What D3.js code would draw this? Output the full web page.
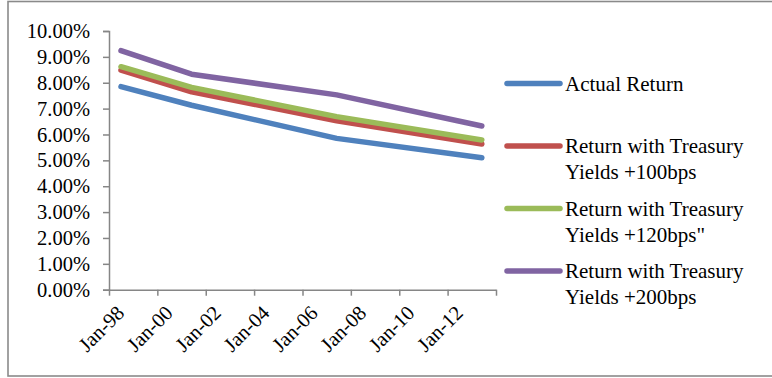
<!DOCTYPE html>
<html>
<head>
<meta charset="utf-8">
<script src="https://cdn.jsdelivr.net/npm/d3@7"></script>
<style>
  html, body { margin: 0; padding: 0; background: #fff; }
  svg { display: block; }
  text { font-family: "Liberation Serif", "Times New Roman", serif; fill: #000; }
</style>
</head>
<body>
<svg id="chart" width="772" height="378"></svg>
<script>
// ---- data ----
const dates = ["1998-07-01", "2001-06-01", "2007-06-01", "2013-06-01"];
const seriesNames = [
  "Actual Return",
  "Return with Treasury Yields +100bps",
  "Return with Treasury Yields +120bps\"",
  "Return with Treasury Yields +200bps"
];
const actualReturn = [7.85, 7.13, 5.85, 5.10];
const plus100 = [8.49, 7.65, 6.53, 5.63];
const plus120 = [8.62, 7.82, 6.69, 5.79];
const plus200 = [9.24, 8.33, 7.53, 6.33];
const legendLines = [
  ["Actual Return"],
  ["Return with Treasury", "Yields +100bps"],
  ["Return with Treasury", "Yields +120bps\""],
  ["Return with Treasury", "Yields +200bps"]
];
const colors = ["#4F81BD", "#C0504D", "#9BBB59", "#8064A2"];
const yTicks = [0, 1, 2, 3, 4, 5, 6, 7, 8, 9, 10];
const xTickYears = [1998, 2000, 2002, 2004, 2006, 2008, 2010, 2012, 2014];
const xLabelYears = [1998, 2000, 2002, 2004, 2006, 2008, 2010, 2012];

const parse = d3.timeParse("%Y-%m-%d");
const series = [actualReturn, plus100, plus120, plus200].map((vals, i) => ({
  name: seriesNames[i],
  color: colors[i],
  values: vals.map((v, j) => ({ date: parse(dates[j]), value: v }))
}));

const svg = d3.select("#chart");

// frame
svg.append("rect")
  .attr("x", 8).attr("y", 1.5).attr("width", 800).attr("height", 374.5)
  .attr("fill", "none").attr("stroke", "#8a8a8a").attr("stroke-width", 1.6);

const x = d3.scaleTime()
  .domain([new Date(1998, 0, 1), new Date(2014, 0, 1)])
  .range([109, 496]);
const y = d3.scaleLinear().domain([0, 10]).range([289.7, 31]);

// y axis
const yAxis = d3.axisLeft(y)
  .tickValues(yTicks)
  .tickSize(6)
  .tickPadding(13)
  .tickFormat(d => d3.format(".2f")(d) + "%");
const gy = svg.append("g").attr("transform", "translate(109,0)").call(yAxis);
gy.select(".domain").attr("stroke", "#868686").attr("stroke-width", 1.5);
gy.selectAll(".tick line").attr("stroke", "#868686").attr("stroke-width", 1.5);
gy.selectAll(".tick text")
  .attr("font-family", "Liberation Serif, Times New Roman, serif")
  .attr("font-size", 20.5).attr("fill", "#000");

// x axis
const xAxis = d3.axisBottom(x)
  .tickValues(xTickYears.map(yr => new Date(yr, 0, 1)))
  .tickSize(6)
  .tickSizeOuter(0)
  .tickFormat(d => xLabelYears.includes(d.getFullYear()) ? d3.timeFormat("%b-%y")(d) : "");
const gx = svg.append("g").attr("transform", "translate(0,289.7)").call(xAxis);
gx.select(".domain").attr("stroke", "#868686").attr("stroke-width", 1.5);
gx.selectAll(".tick line").attr("stroke", "#868686").attr("stroke-width", 1.5);
gx.selectAll(".tick text")
  .attr("font-family", "Liberation Serif, Times New Roman, serif")
  .attr("font-size", 20.5).attr("fill", "#000")
  .attr("text-anchor", "end")
  .attr("dy", "0.35em")
  .attr("y", 0)
  .attr("transform", "translate(11,19.5) rotate(-45)");

// lines
const line = d3.line().x(d => x(d.date)).y(d => y(d.value));
svg.append("g").selectAll("path").data(series).join("path")
  .attr("d", d => line(d.values))
  .attr("fill", "none")
  .attr("stroke", d => d.color)
  .attr("stroke-width", 5.5)
  .attr("stroke-linecap", "round")
  .attr("stroke-linejoin", "round");

// legend
const legendY = [83.5, 146, 208.5, 271];
const lg = svg.append("g");
legendLines.forEach((lines, i) => {
  const g = lg.append("g").attr("transform", `translate(0,${legendY[i]})`);
  g.append("line")
    .attr("x1", 507).attr("x2", 560).attr("y1", 0).attr("y2", 0)
    .attr("stroke", colors[i]).attr("stroke-width", 5.5).attr("stroke-linecap", "round");
  lines.forEach((t, k) => {
    g.append("text")
      .attr("x", 565).attr("y", k * 25.7)
      .attr("dy", "0.35em")
      .attr("font-size", 21)
      .text(t);
  });
});
</script>
</body>
</html>
